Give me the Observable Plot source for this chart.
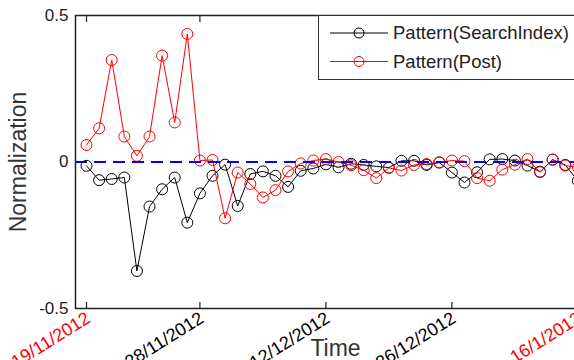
<!DOCTYPE html>
<html><head><meta charset="utf-8">
<script src="https://cdn.jsdelivr.net/npm/d3@7"></script>
<script src="https://cdn.jsdelivr.net/npm/@observablehq/plot@0.6"></script>
<style>
html,body{margin:0;padding:0;overflow:hidden;background:#fff;width:574px;height:360px;}
#wrap{position:relative;width:574px;height:360px;overflow:hidden;}
#wrap svg.plotsvg{max-width:none !important;display:block;}
#legend{position:absolute;left:318px;top:15px;width:264px;height:65px;border:1.5px solid #333;background:#fff;box-sizing:border-box;}
</style></head><body><div id="wrap"></div>
<script>
// Series values (normalized), one point per time step (index 0..39)
const searchIndex = [-0.013, -0.062, -0.058, -0.053, -0.372, -0.152, -0.093, -0.053, -0.207, -0.107,
  -0.047, -0.009, -0.150, -0.041, -0.032, -0.047, -0.085, -0.030, -0.022, -0.008,
  -0.018, -0.006, -0.010, -0.015, -0.019, 0.004, 0.004, -0.010, -0.002, -0.036,
  -0.070, -0.035, 0.009, 0.010, 0.005, -0.012, -0.033, 0.008, -0.010, -0.064];
const post = [0.058, 0.115, 0.348, 0.087, 0.021, 0.087, 0.363, 0.135, 0.437, 0.005,
  0.007, -0.192, -0.036, -0.075, -0.121, -0.096, -0.032, -0.005, 0.005, 0.010,
  0.000, -0.011, -0.028, -0.055, -0.020, -0.029, -0.010, -0.007, -0.001, 0.005,
  0.003, -0.055, -0.064, -0.026, -0.009, 0.010, -0.035, 0.008, -0.012, -0.018];
const tickIndex = [0, 9, 19, 29, 39];
const tickLabels = ["19/11/2012", "28/11/2012", "12/12/2012", "26/12/2012", "16/1/2013"];
const tickRed = [true, false, false, false, true];
const yTicks = [-0.5, 0, 0.5];
const yTickLabels = ["-0.5", "0", "0.5"];
const seriesNames = ["Pattern(SearchIndex)", "Pattern(Post)"];
const seriesColors = ["#000000", "#ff0000"];
const xDomain = [-0.875, 40.4];
const yDomain = [-0.5, 0.5];

const font = "'Liberation Sans', Arial, sans-serif";
const blackData = searchIndex.map((v, i) => ({i, v}));
const redData = post.map((v, i) => ({i, v}));
const ticks = tickIndex.map((t, k) => ({t, label: tickLabels[k], red: tickRed[k]}));

const chart = Plot.plot({
  width: 600, height: 360,
  marginLeft: 75, marginRight: 5, marginTop: 15, marginBottom: 52,
  style: {fontFamily: font, background: "#fff", overflow: "visible"},
  className: "plotsvg",
  x: {type: "linear", domain: xDomain},
  y: {type: "linear", domain: yDomain},
  marks: [
    Plot.axisX({ticks: tickIndex, tickSize: -6, tickFormat: () => "", label: null, stroke: "#222", strokeWidth: 1.2}),
    Plot.axisX({anchor: "top", ticks: tickIndex, tickSize: -6, tickFormat: () => "", label: null, stroke: "#222", strokeWidth: 1.2}),
    Plot.axisY({ticks: yTicks, tickSize: -6, tickPadding: 13, tickFormat: d => yTickLabels[yTicks.indexOf(d)], label: null, fontSize: 17, fill: "#222", stroke: "#222"}),
    Plot.text(ticks.filter(d => !d.red), {x: "t", text: "label", frameAnchor: "bottom", rotate: -32, textAnchor: "end", lineAnchor: "middle", dy: 8, dx: 2, fontSize: 18, fill: "#000"}),
    Plot.text(ticks.filter(d => d.red), {x: "t", text: "label", frameAnchor: "bottom", rotate: -32, textAnchor: "end", lineAnchor: "middle", dy: 8, dx: 2, fontSize: 18, fill: "#ff0000"}),
    Plot.text(["Normalization"], {frameAnchor: "left", textAnchor: "middle", lineAnchor: "middle", dx: -57, rotate: -90, fontSize: 23, fill: "#333"}),
    Plot.text(["Time"], {frameAnchor: "bottom", textAnchor: "middle", lineAnchor: "middle", dy: 40, fontSize: 23, fill: "#333"}),
    Plot.line(blackData, {x: "i", y: "v", stroke: seriesColors[0], strokeWidth: 1}),
    Plot.dot(blackData, {x: "i", y: "v", r: 5.5, stroke: seriesColors[0], fill: "none", strokeWidth: 1}),
    Plot.line(redData, {x: "i", y: "v", stroke: seriesColors[1], strokeWidth: 1}),
    Plot.dot(redData, {x: "i", y: "v", r: 5.5, stroke: seriesColors[1], fill: "none", strokeWidth: 1}),
    Plot.ruleY([0], {stroke: "#0000ff", strokeWidth: 2, strokeDasharray: "12,7"}),
    Plot.frame({stroke: "#222", strokeWidth: 1.5})
  ]
});
const wrap = document.getElementById("wrap");
wrap.appendChild(chart);

// Legend (drawn inside the axes, top-right)
const leg = document.createElement("div");
leg.id = "legend";
wrap.appendChild(leg);
const ls = d3.select(leg).append("svg").attr("width", 264).attr("height", 65).style("display", "block");
seriesNames.forEach((name, k) => {
  const y = 17 + k * 28.5;
  ls.append("line").attr("x1", 11).attr("x2", 69).attr("y1", y).attr("y2", y)
    .attr("stroke", seriesColors[k]).attr("stroke-width", 1);
  ls.append("circle").attr("cx", 40).attr("cy", y).attr("r", 5)
    .attr("stroke", seriesColors[k]).attr("fill", "none").attr("stroke-width", 1);
  ls.append("text").attr("x", 74).attr("y", y).attr("dy", "0.35em")
    .attr("font-family", font).attr("font-size", 18.5).attr("fill", "#222").text(name);
});
</script>
</body></html>
